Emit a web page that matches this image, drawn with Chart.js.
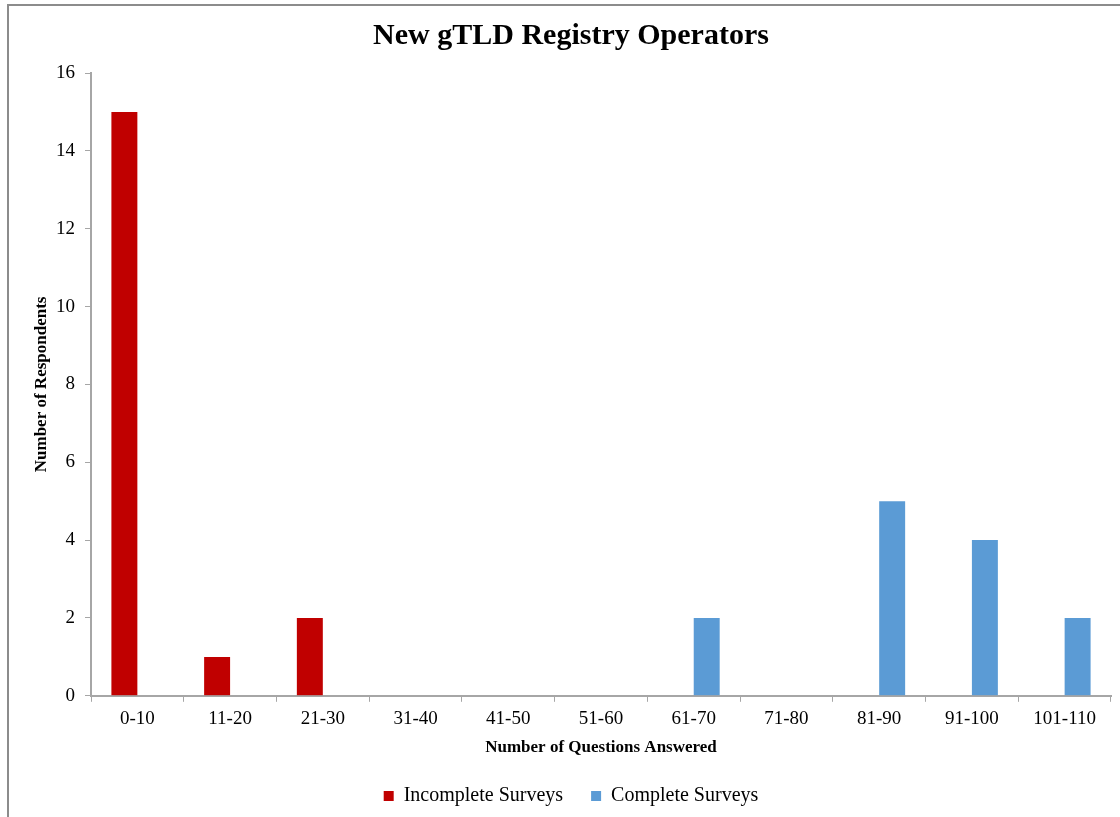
<!DOCTYPE html>
<html>
<head>
<meta charset="utf-8">
<script src="https://cdn.jsdelivr.net/npm/chart.js@4/dist/chart.umd.min.js"></script>
<style>
  html, body { margin: 0; padding: 0; background: #fff; }
  #frame {
    position: absolute; left: 7px; top: 4px; width: 1120px; height: 820px;
    border-top: 2px solid #8c8c8c; border-left: 2px solid #8c8c8c;
  }
  #wrap { position: absolute; left: 0; top: 0; width: 1120px; height: 817px; }
</style>
</head>
<body>
<div id="frame"></div>
<div id="wrap"><canvas id="chart"></canvas></div>
<script>
// question-count buckets and respondents per bucket
const buckets = ['0-10', '11-20', '21-30', '31-40', '41-50', '51-60',
                 '61-70', '71-80', '81-90', '91-100', '101-110'];
const incomplete = [15, 1, 2, 0, 0, 0, 0, 0, 0, 0, 0];
const complete   = [0, 0, 0, 0, 0, 0, 2, 0, 5, 4, 2];
const yTicks = [0, 2, 4, 6, 8, 10, 12, 14, 16];

const SERIF = '"Liberation Serif", "Times New Roman", serif';
const AXIS = '#a6a6a6';

new Chart(document.getElementById('chart'), {
  type: 'bar',
  data: {
    labels: buckets,
    datasets: [
      { label: 'Incomplete Surveys', data: incomplete, backgroundColor: '#c00000',
        categoryPercentage: 0.56, barPercentage: 1.0 },
      { label: 'Complete Surveys', data: complete, backgroundColor: '#5b9bd5',
        categoryPercentage: 0.56, barPercentage: 1.0 },
    ],
  },
  options: {
    responsive: true,
    maintainAspectRatio: false,
    animation: false,
    layout: { padding: { left: 31, right: 9, top: 12, bottom: 1 } },
    plugins: {
      title: {
        display: true,
        text: 'New gTLD Registry Operators',
        color: '#000',
        font: { family: SERIF, size: 30, weight: 'bold' },
        padding: { top: 6, bottom: 19 },
      },
      legend: {
        position: 'bottom',
        labels: {
          color: '#000',
          boxWidth: 10,
          boxHeight: 10,
          padding: 28,
          font: { family: SERIF, size: 20 },
        },
      },
      tooltip: { enabled: false },
    },
    scales: {
      x: {
        grid: { offset: true, drawOnChartArea: false, color: AXIS, tickLength: 6 },
        border: { color: AXIS, width: 2 },
        ticks: { color: '#000', font: { family: SERIF, size: 19 }, padding: 6 },
        title: {
          display: true, text: 'Number of Questions Answered', color: '#000',
          font: { family: SERIF, size: 17, weight: 'bold' }, padding: { top: 1, bottom: 0 },
        },
      },
      y: {
        min: 0, max: 16,
        afterBuildTicks(axis) { axis.ticks = yTicks.map(v => ({ value: v })); },
        afterFit(axis) { axis.width = 60; },
        grid: { drawOnChartArea: false, color: AXIS, tickLength: 6 },
        border: { color: AXIS, width: 2 },
        ticks: { color: '#000', font: { family: SERIF, size: 19 }, padding: 10 },
        title: {
          display: true, text: 'Number of Respondents', color: '#000',
          font: { family: SERIF, size: 17, weight: 'bold' }, padding: { top: 0, bottom: 4 },
        },
      },
    },
  },
});
</script>
</body>
</html>
